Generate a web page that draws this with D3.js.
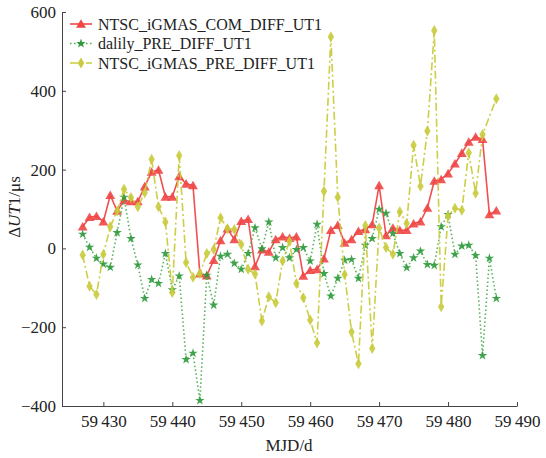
<!DOCTYPE html>
<html><head><meta charset="utf-8">
<script src="https://cdn.jsdelivr.net/npm/d3@7"></script>
<style>body{margin:0;background:#fff;} svg{display:block;}</style>
</head><body>
<svg id="c" width="546" height="458"></svg>
<script>
const days = d3.range(59427, 59488);
const seriesNames = ["NTSC_iGMAS_COM_DIFF_UT1", "dalily_PRE_DIFF_UT1", "NTSC_iGMAS_PRE_DIFF_UT1"];
const comDiff = [55,79,82,68,135,95,122,119,119,157,194,199,131,131,183,164,160,-64,-69,-30,20,50,23,69,74,-46,-3,-9,23,30,26,30,-70,-55,-53,-26,46,59,14,23,44,48,61,160,33,52,46,46,63,68,103,171,175,190,215,242,270,283,277,86,96];
const dailyPre = [36,3,-25,-40,-48,40,130,25,-42,-127,-79,-89,-13,-105,-70,-282,-266,-386,-68,-144,-20,-15,-38,-53,-13,52,-1,67,-24,2,-24,-3,2,-32,61,-64,-121,-76,-30,-28,-76,8,25,99,89,38,-13,-49,-24,-7,-41,-43,55,86,-15,6,8,-18,-272,-25,-127];
const preDiff = [-17,-96,-117,-15,55,95,150,129,106,141,226,106,67,-112,236,-36,-73,-64,-13,-3,78,50,48,10,-53,-65,-184,-123,-138,-32,18,-89,-125,-182,-240,145,537,130,-66,-212,-293,58,-254,52,2,-15,93,63,262,158,298,553,-148,82,102,97,243,140,289,null,380];
const xTicks = [59430,59440,59450,59460,59470,59480,59490];
const yTicks = [-400,-200,0,200,400,600];

const svg = d3.select("#c");
const font = "'Liberation Serif','Times New Roman',serif";
const x = d3.scaleLinear().domain([59424, 59490]).range([62, 517]);
const y = d3.scaleLinear().domain([-400, 600]).range([406, 12]);
const axisColor = "#444";

// axes
const gx = svg.append("g").attr("transform", `translate(0,${y(-400)})`)
  .call(d3.axisBottom(x).tickValues(xTicks).tickSizeInner(-4).tickSizeOuter(0).tickPadding(9)
    .tickFormat(d => { const s = String(d); return s.slice(0,2) + "\u2009" + s.slice(2); }));
const gy = svg.append("g").attr("transform", `translate(${x(59424)},0)`)
  .call(d3.axisLeft(y).tickValues(yTicks).tickSizeInner(-4).tickSizeOuter(0).tickPadding(6)
    .tickFormat(d => d < 0 ? "\u2212" + Math.abs(d) : d));
[gx, gy].forEach(g => {
  g.select(".domain").attr("stroke", axisColor).attr("stroke-width", 1);
  g.selectAll(".tick line").attr("stroke", axisColor);
  g.selectAll("text").attr("font-family", font).attr("font-size", "17px").attr("fill", "#222");
});
gx.selectAll("text").attr("dy", "0.71em");

svg.append("text").attr("x", 289).attr("y", 451).attr("text-anchor", "middle")
  .attr("font-family", font).attr("font-size", "17px").attr("fill", "#222").text("MJD/d");
const yl = svg.append("text").attr("transform", "translate(20,207) rotate(-90)").attr("text-anchor", "middle")
  .attr("font-family", font).attr("font-size", "17px").attr("fill", "#222");
yl.append("tspan").text("\u0394");
yl.append("tspan").attr("font-style", "italic").text("UT");
yl.append("tspan").text("1/\u03bcs");

const styles = [
  {vals: comDiff, line: "#f04646", dash: null, mark: "tri", fill: "#f04646"},
  {vals: dailyPre, line: "#4fb04f", dash: "1.5,2.5", mark: "star", fill: "#2f9a3c"},
  {vals: preDiff, line: "#c9cb3c", dash: "8,3,2,3", mark: "dia", fill: "#c9cb3c"}
];
function markPath(type) {
  if (type === "tri") return d3.symbol(d3.symbolTriangle, 42)();
  if (type === "star") return d3.symbol(d3.symbolStar, 28)();
  return "M0,-5.5L3.2,0L0,5.5L-3.2,0Z";
}
const lineGen = d3.line().x(d => x(d.d)).y(d => y(d.v));
styles.forEach(s => {
  const pts = days.map((d, i) => ({d, v: s.vals[i]})).filter(p => p.v !== null);
  svg.append("path").datum(pts).attr("d", lineGen).attr("fill", "none")
    .attr("stroke", s.line).attr("stroke-width", 1.6).attr("stroke-dasharray", s.dash).attr("opacity", 0.95);
  svg.append("g").selectAll("path").data(pts).join("path")
    .attr("transform", p => `translate(${x(p.d)},${y(p.v) + (s.mark === "tri" ? 1 : 0)})`)
    .attr("d", markPath(s.mark)).attr("fill", s.fill).attr("opacity", 0.9);
});

// legend
const leg = svg.append("g");
styles.forEach((s, i) => {
  const yy = 24 + i * 19.5;
  leg.append("line").attr("x1", 70).attr("x2", 92).attr("y1", yy).attr("y2", yy)
    .attr("stroke", s.line).attr("stroke-width", 1.6).attr("stroke-dasharray", s.dash);
  leg.append("path").attr("transform", `translate(81,${yy + (s.mark === "tri" ? 1 : 0)})`).attr("d", markPath(s.mark)).attr("fill", s.fill);
  leg.append("text").attr("x", 98).attr("y", yy + 5.5).attr("font-family", font).attr("font-size", "16px")
    .attr("fill", "#222").text(seriesNames[i]);
});
</script>
</body></html>
